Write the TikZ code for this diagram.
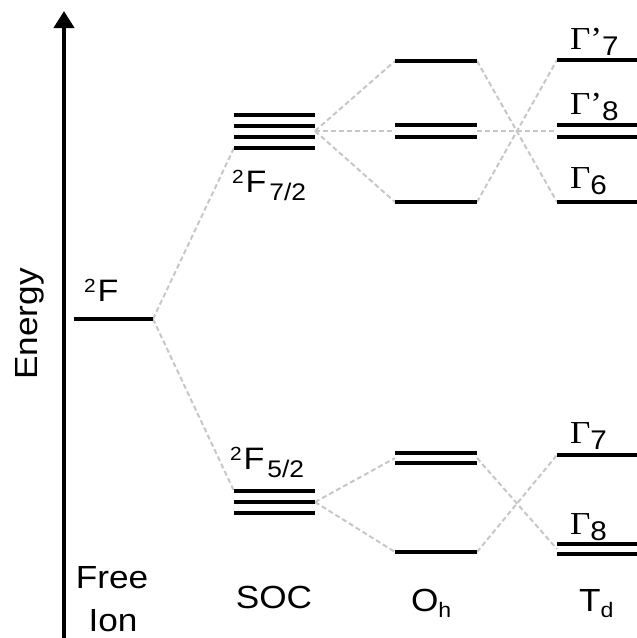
\documentclass[tikz,border=0pt]{standalone}
\usepackage{fontspec}
\setmainfont{Liberation Sans}[FakeStretch=1.1]
\newfontfamily\gfont{Liberation Serif}[FakeStretch=1.1]
\usetikzlibrary{arrows.meta}
\newcommand\labfont{\fontsize{31}{31}\selectfont}
\newcommand\bigfont{\fontsize{32}{32}\selectfont}
\newcommand\supt[1]{\raisebox{9pt}{\fontsize{19}{19}\selectfont #1}\kern2pt}
\newcommand\subt[1]{\kern3pt\raisebox{-8pt}{\fontsize{24}{24}\selectfont #1}}
\newcommand\gsub[1]{\raisebox{-6pt}{\fontsize{27}{27}\selectfont #1}}
\newcommand\bsub[1]{\raisebox{-6pt}{\fontsize{21}{21}\selectfont #1}}
\newcommand\Gam{{\fontsize{32}{32}\selectfont\gfont Γ}}
\newcommand\Gp{{\fontsize{32}{32}\selectfont\gfont Γ’}}
\newcommand\lvl[4]{%
  \coordinate (#1-w) at (#2,#4);
  \coordinate (#1-e) at (#3,#4);
  \draw[lvlline] (#1-w) -- (#1-e);}
\begin{document}
\begin{tikzpicture}[x=1pt,y=-1pt,
  lvlline/.style={line width=4pt},
  conn/.style={draw=black!22, line width=2pt, dash pattern=on 5pt off 3pt},
  every node/.style={inner sep=0pt, outer sep=0pt}]
\useasboundingbox (0,0) rectangle (637,638);
% axis
\coordinate (ax0) at (64,640);
\coordinate (ax1) at (64,11);
\draw[line width=4pt, -{Triangle[width=20pt,length=17pt]}] (ax0) -- (ax1);
% connectors
\coordinate (s72c) at (315,131);
\coordinate (s52c) at (315,502);
\coordinate (ohm-w) at (395,131);
\coordinate (ohm-e) at (477,131);
\coordinate (tdm-w) at (557,131);
\coordinate (ohp-w) at (395,458);
\coordinate (ohp-e) at (477,458);
\coordinate (tdp-w) at (557,549);
\coordinate (fi-e) at (153,319);
\coordinate (s72d-w) at (234,148);
\coordinate (s52a-w) at (234,491);
\coordinate (oh1-w) at (395,61);
\coordinate (oh1-e) at (477,61);
\coordinate (oh4-w) at (395,202);
\coordinate (oh4-e) at (477,202);
\coordinate (oh7-w) at (395,552);
\coordinate (oh7-e) at (477,552);
\coordinate (td1-w) at (557,60);
\coordinate (td4-w) at (557,202);
\coordinate (td5-w) at (557,455);
\draw[conn] (fi-e) -- (s72d-w);
\draw[conn] (fi-e) -- (s52a-w);
\draw[conn] (s72c) -- (oh1-w);
\draw[conn] (s72c) -- (ohm-w);
\draw[conn] (s72c) -- (oh4-w);
\draw[conn] (oh1-e) -- (td4-w);
\draw[conn] (oh4-e) -- (td1-w);
\draw[conn] (ohm-e) -- (tdm-w);
\draw[conn] (s52c) -- (ohp-w);
\draw[conn] (s52c) -- (oh7-w);
\draw[conn] (ohp-e) -- (tdp-w);
\draw[conn] (oh7-e) -- (td5-w);
% levels
\lvl{fi}{74}{153}{319}
\lvl{s72a}{234}{315}{115}
\lvl{s72b}{234}{315}{126}
\lvl{s72c}{234}{315}{137}
\lvl{s72d}{234}{315}{148}
\lvl{s52a}{234}{315}{491}
\lvl{s52b}{234}{315}{502}
\lvl{s52c}{234}{315}{513}
\lvl{oh1}{395}{477}{61}
\lvl{oh2}{395}{477}{125}
\lvl{oh3}{395}{477}{137}
\lvl{oh4}{395}{477}{202}
\lvl{oh5}{395}{477}{453}
\lvl{oh6}{395}{477}{463}
\lvl{oh7}{395}{477}{552}
\lvl{td1}{557}{640}{60}
\lvl{td2}{557}{640}{125}
\lvl{td3}{557}{640}{137}
\lvl{td4}{557}{640}{202}
\lvl{td5}{557}{640}{455}
\lvl{td6}{557}{640}{544}
\lvl{td7}{557}{640}{554}
% level labels
\node[anchor=base west, font=\labfont] (lF) at (84,301) {\supt{2}F};
\node[anchor=base west, font=\labfont] (l72) at (232,192) {\supt{2}F\subt{7/2}};
\node[anchor=base west, font=\labfont] (l52) at (230,469) {\supt{2}F\subt{5/2}};
\node[anchor=base west] (g7p) at (570,49) {\Gp\gsub{7}};
\node[anchor=base west] (g8p) at (570,114) {\Gp\gsub{8}};
\node[anchor=base west] (g6) at (570,188) {\Gam\gsub{6}};
\node[anchor=base west] (g7) at (570,443) {\Gam\gsub{7}};
\node[anchor=base west] (g8) at (570,534) {\Gam\gsub{8}};
% column labels
\node[anchor=base, font=\bigfont] (free) at (112,588) {Free};
\node[anchor=base, font=\bigfont] (ion) at (113,631) {Ion};
\node[anchor=base, font=\bigfont] (soc) at (274,608) {SOC};
\node[anchor=base west, font=\bigfont] (oh) at (411,611) {O\bsub{h}};
\node[anchor=base west, font=\bigfont] (td) at (579,611) {T\bsub{d}};
\node[anchor=base, rotate=90, font=\bigfont] (en) at (37,324) {Energy};
\end{tikzpicture}
\end{document}
